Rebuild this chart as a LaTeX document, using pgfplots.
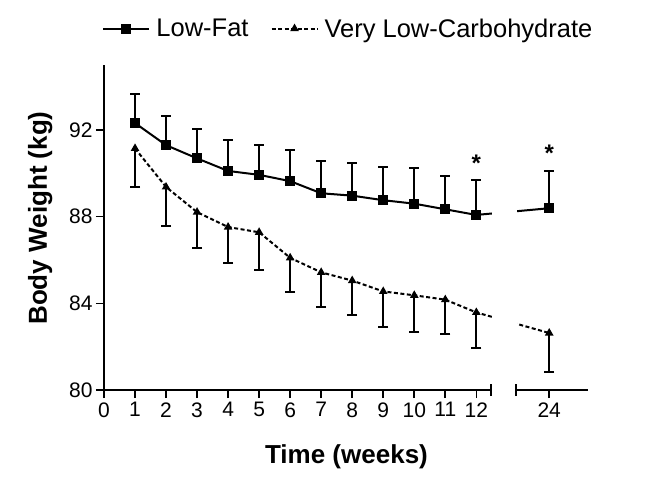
\documentclass[border=0pt]{standalone}
\usepackage{fontspec}
\setmainfont{Liberation Sans}
\usepackage{pgfplots}
\usepackage{pgfplotstable}
\pgfplotsset{compat=1.18}

% week 24 sits at 14.35 on the broken x axis
\pgfplotstableread{
x     y      e
1     92.32  1.35
2     91.30  1.36
3     90.69  1.36
4     90.11  1.43
5     89.93  1.39
6     89.64  1.45
7     89.08  1.50
8     88.97  1.50
9     88.76  1.54
10    88.60  1.64
11    88.34  1.54
12    88.08  1.60
14.35 88.39  1.72
}\lowfat

\pgfplotstableread{
x     y      e
1     91.15  1.78
2     89.37  1.81
3     88.21  1.64
4     87.52  1.66
5     87.28  1.72
6     86.10  1.57
7     85.43  1.60
8     85.05  1.58
9     84.55  1.65
10    84.37  1.70
11    84.17  1.59
12    83.58  1.65
14.35 82.63  1.78
}\lowcarb

\begin{document}
\begin{tikzpicture}
\begin{axis}[
    name=ax,
    scale only axis,
    width=484pt, height=325pt,
    xmin=0, xmax=15.6,
    ymin=80, ymax=95,
    clip=false,
    axis x line*=bottom,
    axis y line*=left,
    x axis line style={draw=none},
    y axis line style={line width=2pt, -},
    xtick={0,1,2,3,4,5,6,7,8,9,10,11,12,14.35},
    xticklabels={0,1,2,3,4,5,6,7,8,9,10,11,12,24},
    ytick={80,84,88,92},
    tick align=outside,
    major tick length=8pt,
    tick style={line width=1.6pt, black},
    /pgf/number format/assume math mode=true,
    ticklabel style={font=\fontsize{21}{25}\selectfont},
    xticklabel style={yshift=-1pt},
    xlabel={\textbf{Time (weeks)}},
    ylabel={\textbf{Body Weight (kg)}},
    label style={font=\fontsize{26}{30}\selectfont},
    xlabel style={at={(axis description cs:0.501,-0.205)}, anchor=center},
    ylabel style={at={(axis description cs:-0.132,0.529)}, anchor=center},
    legend columns=2,
    legend style={draw=none, fill=none, at={(0.505,1.112)}, anchor=center,
        font=\fontsize{25.5}{29}\selectfont,
        /tikz/every odd column/.append style={column sep=4pt},
        /tikz/every even column/.append style={column sep=20pt}},
    legend image code/.code={
        \draw[mark repeat=2, mark phase=2, #1]
            plot coordinates {(0pt,0pt) (23pt,0pt) (46pt,0pt)};
    },
    error bars/error bar style={line width=2pt, solid},
    error bars/error mark options={rotate=90, line width=2pt, mark size=5pt, solid},
]
\addplot[black, line width=2pt, mark=square*, mark size=4pt,
    mark options={solid},
    error bars/.cd, y dir=plus, y explicit]
    table[x=x, y=y, y error=e] {\lowfat};
\addlegendentry{Low-Fat}

\addplot[black, line width=2pt, dash pattern=on 4pt off 2.5pt,
    mark=triangle*, mark size=3pt, mark options={solid},
    error bars/.cd, y dir=minus, y explicit]
    table[x=x, y=y, y error=e] {\lowcarb};
\addlegendentry{Very Low-Carbohydrate}

% break in the lines and in the x axis
\fill[white] (axis cs:12.52,80.5) rectangle (axis cs:13.3,94.5);
\draw[line width=2pt] (axis cs:0,80) -- (axis cs:12.48,80);
\draw[line width=2pt] (axis cs:13.28,80) -- (axis cs:15.6,80);
\draw[line width=1.6pt] ([yshift=-6pt]axis cs:12.48,80) -- ([yshift=6pt]axis cs:12.48,80);
\draw[line width=1.6pt] ([yshift=-6pt]axis cs:13.28,80) -- ([yshift=6pt]axis cs:13.28,80);

% significance marks
\node[anchor=north, inner sep=0pt, font=\fontsize{24}{28}\selectfont\bfseries]
    at (axis cs:12,90.85) {*};
\node[anchor=north, inner sep=0pt, font=\fontsize{24}{28}\selectfont\bfseries]
    at (axis cs:14.35,91.3) {*};
\end{axis}
\path ([shift={(-104pt,-103pt)}]ax.south west) rectangle ++(664pt,493pt);
\end{tikzpicture}
\end{document}
